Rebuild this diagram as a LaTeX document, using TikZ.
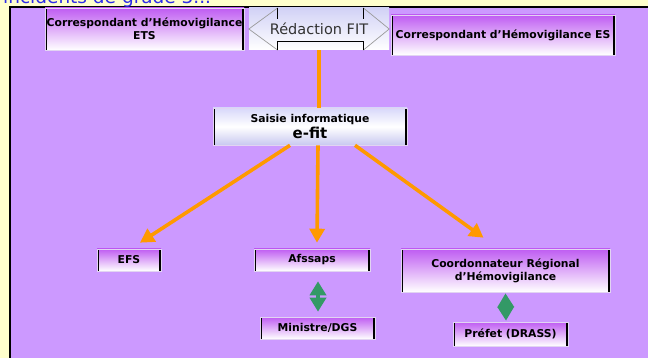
\documentclass[tikz,border=0pt]{standalone}
\usepackage{fontspec}
\setmainfont{DejaVu Sans}
\usetikzlibrary{arrows.meta}
\definecolor{bgyellow}{HTML}{FFFFCC}
\definecolor{panel}{HTML}{CC99FF}
\definecolor{boxtop}{HTML}{BF5CF2}
\definecolor{boxedge}{HTML}{E2D4F2}
\definecolor{orangeline}{HTML}{FF9900}
\definecolor{greenarr}{HTML}{339966}
\definecolor{titleblue}{HTML}{2E2EE6}
\definecolor{fitgray}{HTML}{9A9A9A}
\definecolor{fittext}{HTML}{333333}
\definecolor{fittop}{HTML}{D2D2F6}
\definecolor{saisietop}{HTML}{D8D8FA}
\definecolor{saisiebot}{HTML}{C8C8F0}
\begin{document}
\begin{tikzpicture}[x=1pt,y=-1pt,
  sidebars/.style={path picture={\draw[black,line width=3.6pt]
      (path picture bounding box.north west) -- (path picture bounding box.south west)
      (path picture bounding box.north east) -- (path picture bounding box.south east);}},
  box/.style={rectangle, inner sep=0pt, align=center,
      font=\bfseries\fontsize{10.8}{13}\selectfont,
      top color=boxtop, bottom color=white, draw=boxedge, line width=0.6pt, sidebars},
  flow/.style={draw=orangeline, line width=3.6pt, -{Triangle[length=14pt,width=15pt]}},
  link/.style={draw=greenarr, line width=4pt,
      {Triangle[length=14pt,width=16pt]}-{Triangle[length=14pt,width=16pt]}},
  thinline/.style={line width=0.7pt}
]
\useasboundingbox (0,0) rectangle (648,358);
\clip (0,0) rectangle (648,358);
% background
\fill[bgyellow] (0,0) rectangle (648,358);
\fill[panel] (10,7) rectangle (660,370);
\draw[black,line width=2pt] (10,370) -- (10,7) -- (660,7);
% title (cut off at top, as in the reference)
\node[anchor=base west, inner sep=0pt, text=titleblue,
      font=\fontsize{18.5}{20}\selectfont] (title) at (3,3.8) {incidents de grade 3...};

% top row
\node[box, minimum width=199pt, minimum height=42pt] (ets) at (144.5,29)
  {Correspondant d’Hémovigilance\\ETS};
\node[rectangle, inner sep=0pt, minimum width=140pt, minimum height=42pt,
      top color=fittop, bottom color=white, text=fittext,
      font=\fontsize{14.5}{16}\selectfont] (fit) at (319,29) {Rédaction FIT};
\draw[fitgray, thinline] ([xshift=29pt]fit.north west) -- (fit.west) -- ([xshift=29pt]fit.south west);
\draw[fitgray, thinline] ([xshift=-26pt]fit.north east) -- (fit.east) -- ([xshift=-26pt]fit.south east);
\draw[black, thinline] ([xshift=29pt]fit.north west) -- ++(0,11);
\draw[black, thinline] ([xshift=-26pt]fit.north east) -- ++(0,11);
\draw[black, thinline] ([xshift=29pt]fit.south west) -- ++(0,-9) -| ([xshift=-26pt]fit.south east);
\node[box, minimum width=224pt, minimum height=40pt] (es) at (503,35)
  {Correspondant d’Hémovigilance ES};

% central node
\node[rectangle, inner sep=0pt, align=center, minimum width=194pt, minimum height=37pt,
      top color=saisietop, bottom color=saisiebot, middle color=white,
      draw=boxedge, line width=0.6pt, sidebars] (saisie) at (310,126.5)
  {{\bfseries\fontsize{10.8}{12}\selectfont Saisie informatique}\\[2pt]
   {\bfseries\fontsize{15}{16}\selectfont e-fit}};

% bottom nodes
\node[box, minimum width=64pt, minimum height=22pt] (efs) at (129,260) {EFS};
\node[box, minimum width=116pt, minimum height=22pt] (afssaps) at (312,260) {Afssaps};
\node[box, minimum width=115pt, minimum height=22pt] (ministre) at (317.5,328) {Ministre/DGS};
\node[box, minimum width=209pt, minimum height=43pt] (coord) at (505.5,270.5)
  {Coordonnateur Régional\\d’Hémovigilance};
\node[box, minimum width=115pt, minimum height=24pt] (prefet) at (510.5,334) {Préfet (DRASS)};

% orange connectors
\draw[draw=orangeline, line width=3.6pt] (fit.south) -- (fit.south |- saisie.north);
\draw[flow] ([xshift=-20pt]saisie.south) -- ([xshift=11pt,yshift=6pt]efs.north);
\draw[flow] ([xshift=8pt]saisie.south) -- ([xshift=5pt,yshift=6pt]afssaps.north);
\draw[flow] ([xshift=45pt]saisie.south) -- ([xshift=-22pt,yshift=11pt]coord.north);

% green links
\draw[link] ([xshift=6pt,yshift=-10pt]afssaps.south) -- ([xshift=0.5pt,yshift=5pt]ministre.north);
\draw[link] ([yshift=-1pt]coord.south) -- ([xshift=-4.5pt,yshift=1pt]prefet.north);
\end{tikzpicture}
\end{document}
